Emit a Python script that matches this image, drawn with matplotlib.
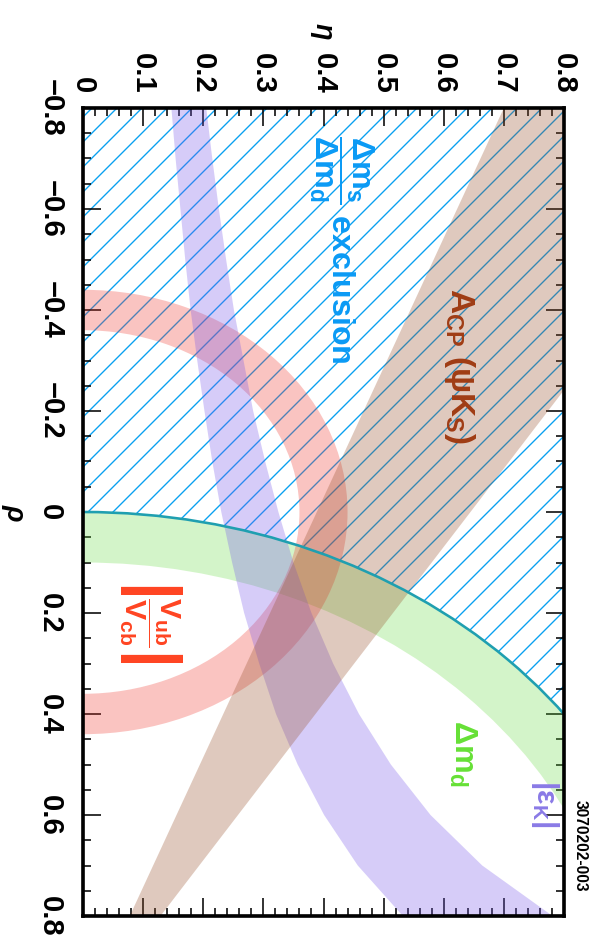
import numpy as np
import matplotlib
matplotlib.use('Agg')
import matplotlib.pyplot as plt
from matplotlib.patches import Wedge, Circle, PathPatch
from matplotlib.path import Path
from matplotlib.ticker import MultipleLocator, FixedLocator, FixedFormatter

plt.rcParams['font.family'] = ['Liberation Sans', 'DejaVu Sans']
plt.rcParams['font.weight'] = 'bold'
plt.rcParams['mathtext.fontset'] = 'custom'
plt.rcParams['mathtext.rm'] = 'Liberation Sans:bold'
plt.rcParams['mathtext.bf'] = 'Liberation Sans:bold'
plt.rcParams['mathtext.it'] = 'Liberation Sans:bold:italic'
plt.rcParams['mathtext.default'] = 'bf'
plt.rcParams['hatch.linewidth'] = 1.3

# ---- data (rho, eta) ----
# Δm_s/Δm_d exclusion : outside circle around (rho=1, eta=0)
dms_rho0, dms_eta0, dms_radius = 1.0, 0.0, 1.0
# Δm_d band
dmd_rho0, dmd_eta0 = 1.0, 0.0
dmd_r_in, dmd_r_out = 0.90, 1.00
# |Vub/Vcb| band around origin
vub_r_in, vub_r_out = 0.36, 0.44
# |eps_K| band edges
epsk_rho = [-0.8, -0.7, -0.6, -0.5, -0.4, -0.3, -0.2, -0.1, 0.0,
            0.1, 0.2, 0.3, 0.4, 0.5, 0.6, 0.7, 0.8]
epsk_eta_lo = [0.147, 0.154, 0.162, 0.170, 0.179, 0.190, 0.202, 0.215, 0.230,
               0.248, 0.268, 0.293, 0.321, 0.357, 0.401, 0.457, 0.532]
epsk_eta_hi = [0.205, 0.215, 0.226, 0.238, 0.251, 0.267, 0.283, 0.303, 0.325,
               0.350, 0.380, 0.416, 0.459, 0.512, 0.578, 0.664, 0.781]
# A_CP(psi K_S) wedge from (1, 0)
acp_rho = [1.0, -0.8, -0.8]
acp_eta = [0.0, 0.70, 1.16]

rho_ticks = [-0.8, -0.6, -0.4, -0.2, 0, 0.2, 0.4, 0.6, 0.8]
rho_labels = ['\u22120.8', '\u22120.6', '\u22120.4', '\u22120.2', '0', '0.2', '0.4', '0.6', '0.8']
eta_ticks = [0, 0.1, 0.2, 0.3, 0.4, 0.5, 0.6, 0.7, 0.8]
eta_labels = ['0', '0.1', '0.2', '0.3', '0.4', '0.5', '0.6', '0.7', '0.8']

hatch_blue = '#0aa0f0'

fig = plt.figure(figsize=(597 / 75, 940 / 75), dpi=75)
ax = fig.add_axes([83 / 597, 1 - 916 / 940, 481 / 597, 808 / 940])
# rotated frame: x = eta, y = rho (downwards)
ax.set_xlim(0, 0.8)
ax.set_ylim(0.8, -0.8)

rect = Path([(-3, -3), (-3, 3), (3, 3), (3, -3), (-3, -3)], closed=True)
circ = Path.circle(center=(dms_eta0, dms_rho0), radius=dms_radius)
excl = PathPatch(Path.make_compound_path(rect, circ), facecolor='none',
                 edgecolor=hatch_blue, hatch='/', lw=0, zorder=1)
ax.add_patch(excl)

ax.add_patch(Wedge((dmd_eta0, dmd_rho0), dmd_r_out, 0, 360, width=dmd_r_out - dmd_r_in,
                   facecolor=(0.39, 0.86, 0.24), alpha=0.28, lw=0, zorder=2))
ax.add_patch(Circle((dms_eta0, dms_rho0), dms_radius, fill=False,
                    ec='#1f9fb0', lw=2.5, zorder=2.2))
ax.add_patch(Wedge((0, 0), vub_r_out, 0, 360, width=vub_r_out - vub_r_in,
                   facecolor=(0.94, 0.24, 0.2), alpha=0.3, lw=0, zorder=2))
ax.fill_betweenx(epsk_rho, epsk_eta_lo, epsk_eta_hi,
                 facecolor=(0.47, 0.35, 0.92), alpha=0.3, lw=0, zorder=2)
ax.fill(acp_eta, acp_rho, facecolor=(0.59, 0.31, 0.16), alpha=0.3, lw=0, zorder=2)

# labels
ax.text(0.627, -0.29, r'A$_{CP}$ (ψK$_S$)', color='#a03c14', fontsize=32,
        rotation=-90, ha='center', va='center')
ax.text(0.43, -0.52, r'$\dfrac{\Delta m_s}{\Delta m_d}$ exclusion', color='#0a9af5',
        fontsize=31, rotation=-90, ha='center', va='center')
ax.text(0.113, 0.218, r'$\left|\dfrac{V_{ub}}{V_{cb}}\right|$', color='#ff4422',
        fontsize=29, rotation=-90, ha='center', va='center')
ax.text(0.632, 0.477, r'$\Delta m_d$', color='#66e036', fontsize=31,
        rotation=-90, ha='center', va='center')
ax.text(0.769, 0.578, r'$|ε_K|$', color='#8a7ae6', fontsize=29,
        rotation=-90, ha='center', va='center')
ax.text(0.827, 0.661, '3070202-003', color='black', fontsize=15,
        rotation=-90, ha='center', va='center', clip_on=False)

# axes
ax.xaxis.tick_top()
ax.xaxis.set_major_locator(FixedLocator(eta_ticks))
ax.xaxis.set_major_formatter(FixedFormatter(eta_labels))
ax.xaxis.set_minor_locator(MultipleLocator(0.02))
ax.yaxis.set_major_locator(FixedLocator(rho_ticks))
ax.yaxis.set_major_formatter(FixedFormatter(rho_labels))
ax.yaxis.set_minor_locator(MultipleLocator(0.05))
ax.tick_params(which='both', direction='in', top=True, bottom=True, left=True, right=True,
               labeltop=True, labelbottom=False, labelleft=True, labelright=False)
ax.tick_params(which='major', length=17, width=1.5)
ax.tick_params(which='minor', length=8, width=1.5)
ax.tick_params(axis='x', labelrotation=-90, labelsize=28, pad=14)
ax.tick_params(axis='y', labelrotation=-90, labelsize=28, pad=18)
for t in ax.get_yticklabels():
    t.set_va('center')
for s in ax.spines.values():
    s.set_linewidth(3.5)

fig.text(323 / 597, 1 - 31 / 940, 'η', rotation=-90, fontsize=26, style='italic',
         ha='center', va='center')
fig.text(15 / 597, 1 - 512 / 940, 'ρ', rotation=-90, fontsize=26, style='italic',
         ha='center', va='center')

fig.savefig('out.png', dpi=75)
